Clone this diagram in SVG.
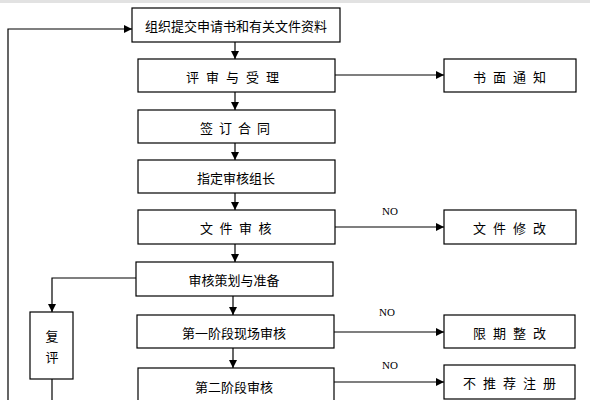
<svg xmlns="http://www.w3.org/2000/svg" width="590" height="400" viewBox="0 0 590 400">
<style>
.box{fill:#fff;stroke:#000;stroke-width:1.2}
.t{font-family:"Noto Sans CJK SC","Noto Sans",sans-serif;font-size:13px;fill:#000;text-anchor:middle;dominant-baseline:central}
.no{font-family:"Liberation Serif",serif;font-size:11px;fill:#000;text-anchor:middle;dominant-baseline:central}
.ln{fill:none;stroke:#000;stroke-width:1.2}
</style>
<defs>
<marker id="ah" markerUnits="userSpaceOnUse" markerWidth="9" markerHeight="8" refX="8" refY="4" orient="auto">
<path d="M0,0 L8,4 L0,8 z" fill="#000"/>
</marker>
</defs>
<rect x="0" y="0" width="590" height="400" fill="#fff"/>
<rect x="0" y="0" width="590" height="3" fill="#e2e2e2"/>
<g id="connectors">
<line class="ln" x1="235" y1="42" x2="235" y2="59" marker-end="url(#ah)"/>
<line class="ln" x1="235" y1="92" x2="235" y2="110" marker-end="url(#ah)"/>
<line class="ln" x1="235" y1="143" x2="235" y2="160" marker-end="url(#ah)"/>
<line class="ln" x1="235" y1="193" x2="235" y2="210" marker-end="url(#ah)"/>
<line class="ln" x1="235" y1="244" x2="235" y2="262" marker-end="url(#ah)"/>
<line class="ln" x1="233" y1="296" x2="233" y2="315" marker-end="url(#ah)"/>
<line class="ln" x1="233" y1="348" x2="233" y2="368" marker-end="url(#ah)"/>
<line class="ln" x1="335" y1="75" x2="444" y2="75" marker-end="url(#ah)"/>
<line class="ln" x1="335" y1="227" x2="444" y2="227" marker-end="url(#ah)"/>
<line class="ln" x1="334" y1="332" x2="444" y2="332" marker-end="url(#ah)"/>
<line class="ln" x1="334" y1="382" x2="444" y2="382" marker-end="url(#ah)"/>
<polyline class="ln" points="136,278 52,278 52,312" marker-end="url(#ah)"/>
<line class="ln" x1="52" y1="379" x2="52" y2="400"/>
<polyline class="ln" points="8,400 8,29 132,29" marker-end="url(#ah)"/>
<text class="no" x="390" y="211">NO</text>
<text class="no" x="387" y="312">NO</text>
<text class="no" x="390" y="365">NO</text>
</g>
<g id="n1"><rect class="box" x="132" y="8" width="208" height="34"/><text class="t" x="236" y="25">组织提交申请书和有关文件资料</text></g>
<g id="n2"><rect class="box" x="138" y="59" width="197" height="33"/><text class="t" x="236" y="76" letter-spacing="7">评审与受理</text></g>
<g id="n3"><rect class="box" x="138" y="110" width="197" height="33"/><text class="t" x="238" y="127" letter-spacing="6">签订合同</text></g>
<g id="n4"><rect class="box" x="138" y="160" width="197" height="33"/><text class="t" x="236" y="177">指定审核组长</text></g>
<g id="n5"><rect class="box" x="138" y="210" width="197" height="34"/><text class="t" x="239" y="227" letter-spacing="6.5">文件审核</text></g>
<g id="n6"><rect class="box" x="136" y="262" width="197" height="34"/><text class="t" x="234" y="279">审核策划与准备</text></g>
<g id="n7"><rect class="box" x="137" y="315" width="197" height="33"/><text class="t" x="234" y="332">第一阶段现场审核</text></g>
<g id="n8"><rect class="box" x="138" y="368" width="196" height="40"/><text class="t" x="234" y="386">第二阶段审核</text></g>
<g id="n9"><rect class="box" x="30" y="312" width="43" height="67"/><text class="t" x="52" y="335">复</text><text class="t" x="52" y="356">评</text></g>
<g id="n10"><rect class="box" x="444" y="59" width="132" height="33"/><text class="t" x="513" y="76" letter-spacing="7">书面通知</text></g>
<g id="n11"><rect class="box" x="444" y="210" width="132" height="34"/><text class="t" x="513" y="227" letter-spacing="7">文件修改</text></g>
<g id="n12"><rect class="box" x="444" y="315" width="131" height="33"/><text class="t" x="513" y="332" letter-spacing="7">限期整改</text></g>
<g id="n13"><rect class="box" x="444" y="365" width="131" height="34"/><text class="t" x="513" y="382" letter-spacing="7">不推荐注册</text></g>
</svg>
